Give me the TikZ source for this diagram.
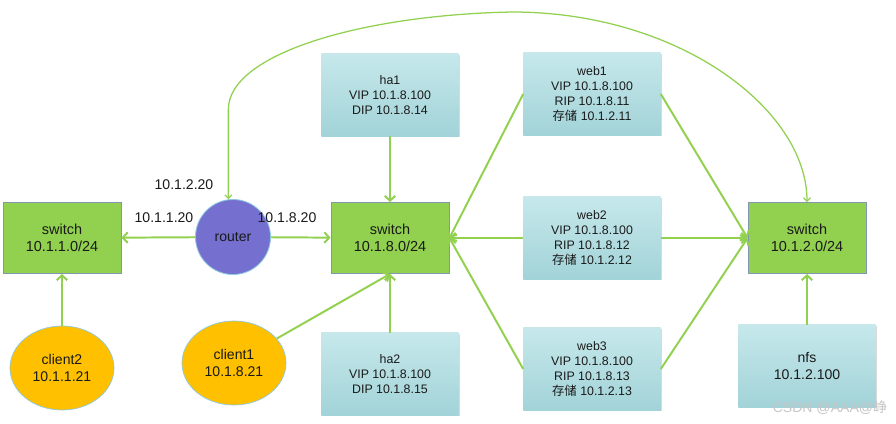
\documentclass[tikz,border=0pt]{standalone}
\usepackage{fontspec}
\setmainfont{Liberation Sans}
\newfontfamily\cjk{Noto Sans CJK SC}
\usetikzlibrary{arrows.meta, shapes.geometric, shadows}

\definecolor{linegreen}{HTML}{92D050}
\definecolor{swgreen}{HTML}{92D050}
\definecolor{swborder}{HTML}{8497B0}
\definecolor{boxtop}{HTML}{C6E8EB}
\definecolor{boxbottom}{HTML}{A2D3D8}
\definecolor{routerblue}{HTML}{7570D0}
\definecolor{rimblue}{HTML}{8EC8E0}
\definecolor{clientyellow}{HTML}{FFC000}
\definecolor{textdark}{HTML}{1A1A1A}

\begin{document}
\begin{tikzpicture}[x=0.025cm, y=-0.025cm,
		switchbox/.style={rectangle, draw=swborder, fill=swgreen, line width=0.6pt,
			minimum width=2.95cm, minimum height=1.775cm, align=center, text=textdark,
			font=\fontsize{10.3}{12.5}\selectfont},
		hostbox/.style={rectangle, top color=boxtop, bottom color=boxbottom,
			minimum width=3.425cm, minimum height=2.05cm, align=center, text=textdark,
			font=\fontsize{8.8}{10.7}\selectfont,
			drop shadow={shadow xshift=0.8pt, shadow yshift=-1pt, opacity=0.3}},
		client/.style={ellipse, draw=rimblue, fill=clientyellow, line width=0.5pt,
			minimum width=2.6cm, minimum height=2.1cm, align=center, text=textdark,
			font=\fontsize{10}{12.5}\selectfont},
		link/.style={draw=linegreen, line width=1.4pt,
			-{Straight Barb[length=3.5pt, width=7.5pt]}},
		arc/.style={draw=linegreen, line width=0.9pt,
			{Straight Barb[length=2.5pt, width=5pt]}-{Straight Barb[length=2.5pt, width=5pt]}},
		iplabel/.style={font=\fontsize{10}{12}\selectfont, text=textdark}
		]
		\useasboundingbox (0,0) rectangle (896,423);

		\node[switchbox](sw1) at (62,238){switch\\10.1.1.0/24};
		\node[switchbox](sw2) at (390,238){switch\\10.1.8.0/24};
		\node[switchbox](sw3) at (807,238){switch\\10.1.2.0/24};
		\node[circle, draw=rimblue, fill=routerblue, line width=0.6pt, minimum size=1.875cm,
			font=\fontsize{10}{12}\selectfont, text=textdark](router) at (233,237){router};

		\node[iplabel](ip1) at (184,185){10.1.2.20};
		\node[iplabel](ip2) at (164,218){10.1.1.20};
		\node[iplabel](ip3) at (287,218){10.1.8.20};

		\node[hostbox](ha1) at (390,95){ha1\\VIP 10.1.8.100\\DIP 10.1.8.14};
		\node[hostbox](ha2) at (390,374){ha2\\VIP 10.1.8.100\\DIP 10.1.8.15};
		\node[hostbox](web1) at (592,94){web1\\VIP 10.1.8.100\\RIP 10.1.8.11\\{\cjk 存储} 10.1.2.11};
		\node[hostbox](web2) at (592,238){web2\\VIP 10.1.8.100\\RIP 10.1.8.12\\{\cjk 存储} 10.1.2.12};
		\node[hostbox](web3) at (592,369){web3\\VIP 10.1.8.100\\RIP 10.1.8.13\\{\cjk 存储} 10.1.2.13};
		\node[hostbox, font=\fontsize{10}{12.5}\selectfont](nfs) at (807,366){nfs\\10.1.2.100};

		\node[client](client2) at (62,368){client2\\10.1.1.21};
		\node[client](client1) at (234,363){client1\\10.1.8.21};

		\draw[link] (router) -- (sw1);
		\draw[link] (router) -- (sw2);
		\draw[link] (client2) -- (sw1);
		\draw[link] (client1) -- (sw2.south);
		\draw[link] (ha1) -- (sw2);
		\draw[link] (ha2) -- (sw2);
		\draw[link] (web1.west) -- (sw2.east);
		\draw[link] (web2.west) -- (sw2.east);
		\draw[link] (web3.west) -- (sw2.east);
		\draw[link] (web1.east) -- (sw3.west);
		\draw[link] (web2.east) -- (sw3.west);
		\draw[link] (web3.east) -- (sw3.west);
		\draw[link] (nfs) -- (sw3);
		\draw[arc] (router.97) -- ++(0,-90) .. controls +(0,-55) and (360,15) .. (512,12)
			.. controls (680,12) and (807,110) .. (sw3.north);

		\node[text=gray!45, font=\fontsize{10}{12}\selectfont](mark) at (830,408){CSDN @AAA@{\cjk 峥}};
	\end{tikzpicture}
\end{document}
